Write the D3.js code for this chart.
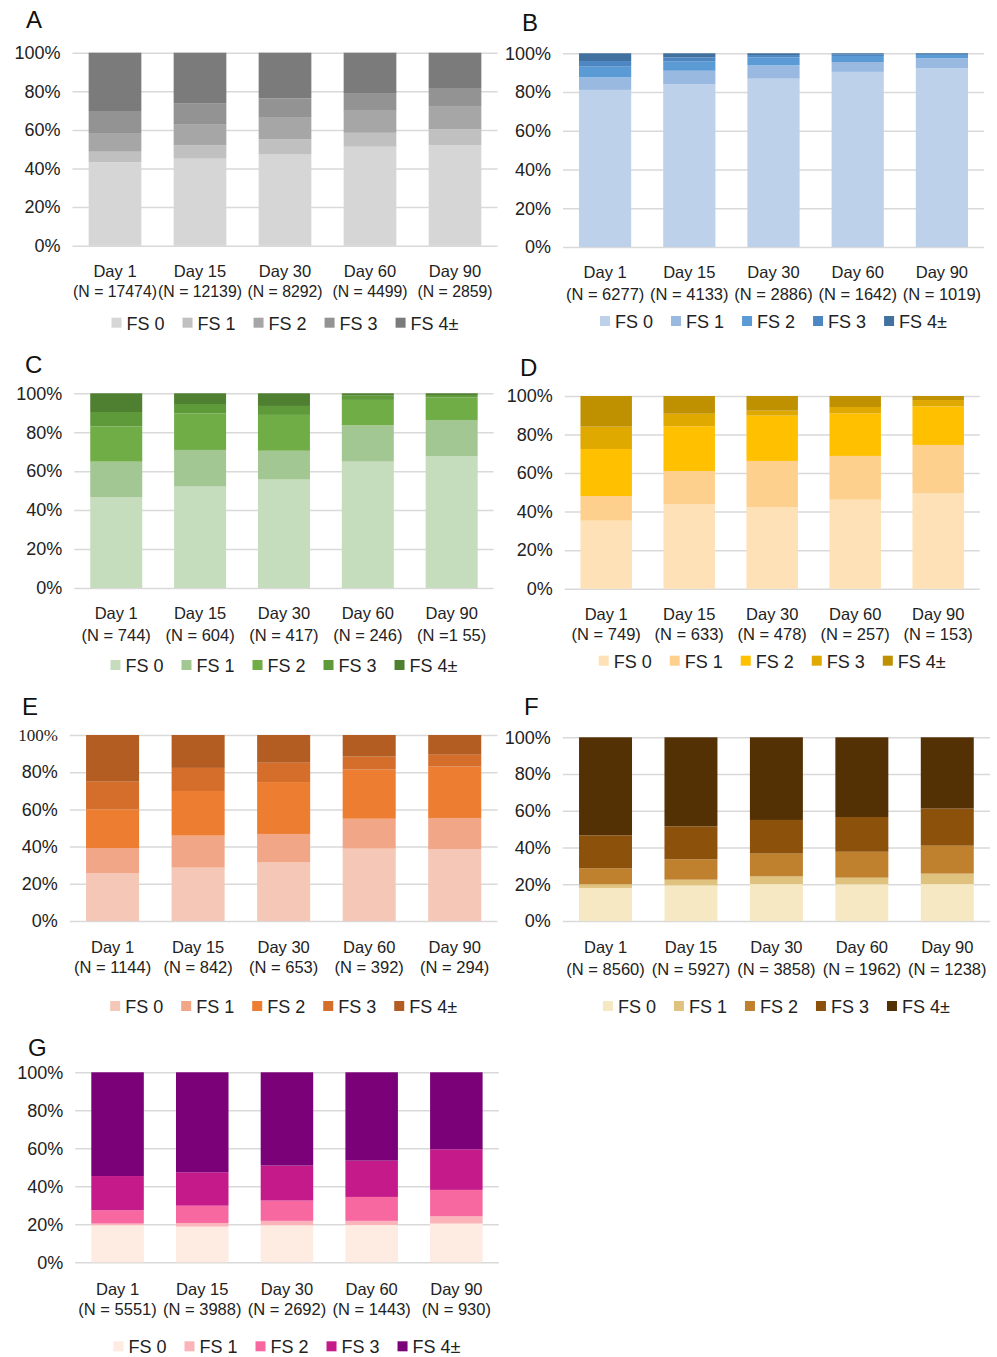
<!DOCTYPE html>
<html>
<head>
<meta charset="utf-8">
<script src="https://cdn.jsdelivr.net/npm/d3@7"></script>
<style>
  body { margin: 0; background: #fff; }
  svg { display: block; font-family: "Liberation Sans", Arial, sans-serif; }
</style>
</head>
<body>
<svg id="chart" width="997" height="1357"></svg>
<script>
// categories and legend
const days = ["Day 1", "Day 15", "Day 30", "Day 60", "Day 90"];
const fsLevels = ["FS 0", "FS 1", "FS 2", "FS 3", "FS 4±"];
const yTicks = [0, 0.2, 0.4, 0.6, 0.8, 1];

// N labels per panel
const nA = ["(N = 17474)", "(N = 12139)", "(N = 8292)", "(N = 4499)", "(N = 2859)"];
const nB = ["(N = 6277)", "(N = 4133)", "(N = 2886)", "(N = 1642)", "(N = 1019)"];
const nC = ["(N = 744)", "(N = 604)", "(N = 417)", "(N = 246)", "(N =1 55)"];
const nD = ["(N = 749)", "(N = 633)", "(N = 478)", "(N = 257)", "(N = 153)"];
const nE = ["(N = 1144)", "(N = 842)", "(N = 653)", "(N = 392)", "(N = 294)"];
const nF = ["(N = 8560)", "(N = 5927)", "(N = 3858)", "(N = 1962)", "(N = 1238)"];
const nG = ["(N = 5551)", "(N = 3988)", "(N = 2692)", "(N = 1443)", "(N = 930)"];

// percentages, one row per FS level, one value per day
const valsA = [
  [43.2, 45.1, 47.5, 51.3, 52.0],
  [5.5, 6.9, 7.6, 7.2, 8.3],
  [9.3, 10.7, 11.2, 11.4, 11.7],
  [11.8, 10.9, 10.0, 9.2, 9.7],
  [30.2, 26.4, 23.7, 20.9, 18.3]
];
const valsB = [
  [81.1, 84.0, 86.9, 90.4, 92.3],
  [6.5, 7.0, 6.9, 5.1, 5.1],
  [5.5, 4.7, 4.0, 3.1, 1.7],
  [2.9, 2.2, 1.3, 0.9, 0.5],
  [4.0, 2.1, 0.9, 0.5, 0.4]
];
const valsC = [
  [46.7, 52.1, 55.7, 64.9, 67.8],
  [18.2, 18.8, 14.8, 18.7, 18.5],
  [18.1, 18.8, 18.4, 13.0, 11.6],
  [7.4, 4.8, 4.6, 2.2, 1.2],
  [9.6, 5.5, 6.5, 1.2, 0.9]
];
const valsD = [
  [35.3, 43.9, 42.4, 46.2, 49.5],
  [12.8, 17.2, 23.9, 22.7, 25.1],
  [24.4, 23.2, 23.5, 22.1, 20.0],
  [11.6, 6.5, 2.6, 3.3, 3.3],
  [15.9, 9.2, 7.6, 5.7, 2.1]
];
const valsE = [
  [25.8, 28.7, 31.5, 38.9, 38.7],
  [13.4, 17.2, 15.3, 16.1, 16.7],
  [20.8, 24.0, 27.9, 26.4, 27.6],
  [14.9, 12.4, 10.4, 7.0, 6.4],
  [25.1, 17.7, 14.9, 11.6, 10.6]
];
const valsF = [
  [18.0, 19.4, 20.1, 20.0, 20.1],
  [2.0, 3.1, 4.2, 3.6, 5.7],
  [8.7, 11.1, 12.4, 14.1, 15.2],
  [17.9, 17.9, 18.3, 18.9, 20.2],
  [53.4, 48.5, 45.0, 43.4, 38.8]
];
const valsG = [
  [19.5, 18.8, 19.5, 19.6, 20.4],
  [0.9, 1.9, 2.3, 2.2, 3.8],
  [7.0, 9.1, 10.7, 12.6, 13.9],
  [18.0, 17.6, 18.4, 19.1, 21.4],
  [54.6, 52.6, 49.1, 46.5, 40.5]
];

// colours
const colA = ["#d6d6d6", "#c0c0c0", "#a6a6a6", "#939393", "#7b7b7b"];
const colB = ["#bdd1eb", "#9ab9e1", "#5b9bd5", "#4c87c3", "#41719f"];
const colC = ["#c5dcbd", "#a3c793", "#70ad47", "#5e993a", "#4f7f31"];
const colD = ["#fee1b6", "#fed08d", "#ffc000", "#e0a900", "#bf9000"];
const colE = ["#f5c7b7", "#f1a687", "#ed7d31", "#d46e2a", "#b45d22"];
const colF = ["#f6e8c3", "#dfc27d", "#bf812d", "#8c510a", "#543005"];
const colG = ["#feebe2", "#fbb4b9", "#f768a1", "#c51b8a", "#7a0177"];

const panels = [
  { id: "A", vals: valsA, ns: nA, col: colA, x0: 72.5, x1: 497.5, yT: 52.7, yB: 245.7, lx: 26, ly: 28, c1: 31, c2: 51, lg: 84, nSize: 15.8 },
  { id: "B", vals: valsB, ns: nB, col: colB, x0: 563, x1: 984, yT: 53.3, yB: 247, lx: 522, ly: 31, c1: 31, c2: 53, lg: 81 },
  { id: "C", vals: valsC, ns: nC, col: colC, x0: 74.3, x1: 493.6, yT: 393.3, yB: 588, lx: 25, ly: 373, c1: 31, c2: 53, lg: 84 },
  { id: "D", vals: valsD, ns: nD, col: colD, x0: 564.7, x1: 979.7, yT: 396, yB: 588.7, lx: 520, ly: 376, c1: 31, c2: 51, lg: 79 },
  { id: "E", vals: valsE, ns: nE, col: colE, x0: 69.8, x1: 497.5, yT: 735, yB: 921, lx: 22, ly: 715, c1: 32, c2: 52, lg: 92, serifTop: true },
  { id: "F", vals: valsF, ns: nF, col: colF, x0: 562.8, x1: 990, yT: 737.3, yB: 921, lx: 524, ly: 715, c1: 32, c2: 54, lg: 92 },
  { id: "G", vals: valsG, ns: nG, col: colG, x0: 75.2, x1: 498.7, yT: 1072.3, yB: 1262.3, lx: 28, ly: 1056, c1: 33, c2: 53, lg: 91 }
];

const svg = d3.select("#chart");

function drawPanel(p) {
  const g = svg.append("g");
  const rows = days.map((d, i) => {
    const r = { day: d };
    fsLevels.forEach((k, j) => r[k] = p.vals[j][i]);
    return r;
  });
  const series = d3.stack().keys(fsLevels).offset(d3.stackOffsetExpand)(rows);

  const x = d3.scaleBand().domain(days).range([p.x0, p.x1]).paddingInner(0.38).paddingOuter(0.19);
  const y = d3.scaleLinear().domain([0, 1]).range([p.yB, p.yT]);
  const color = d3.scaleOrdinal().domain(fsLevels).range(p.col);

  // y axis with gridlines
  const yAxis = d3.axisLeft(y).tickValues(yTicks).tickFormat(d3.format(".0%"))
    .tickSize(-(p.x1 - p.x0)).tickPadding(12);
  const ya = g.append("g").attr("transform", "translate(" + p.x0 + ",0)").call(yAxis);
  ya.select(".domain").remove();
  ya.selectAll(".tick line").attr("stroke", "#d9d9d9").attr("stroke-width", 1.5);
  ya.selectAll(".tick text").attr("fill", "#222").attr("font-size", 18)
    .attr("font-family", "'Liberation Sans', Arial, sans-serif");
  if (p.serifTop) {
    ya.selectAll(".tick text").filter(d => d === 1)
      .attr("font-family", "'Liberation Serif', 'Times New Roman', serif").attr("font-size", 17);
  }

  // bars
  g.append("g").selectAll("g").data(series).join("g")
    .attr("fill", d => color(d.key))
    .selectAll("rect").data(d => d).join("rect")
    .attr("x", d => x(d.data.day))
    .attr("width", x.bandwidth())
    .attr("y", d => y(d[1]))
    .attr("height", d => y(d[0]) - y(d[1]));

  // x axis with two-line labels
  const xa = g.append("g").attr("transform", "translate(0," + p.yB + ")")
    .call(d3.axisBottom(x).tickSize(0).tickFormat(""));
  xa.select(".domain").remove();
  xa.selectAll(".tick text").remove();
  xa.selectAll(".tick").each(function (d, i) {
    const t = d3.select(this);
    t.append("text").attr("y", p.c1).attr("text-anchor", "middle")
      .attr("fill", "#222").attr("font-size", 16.5).text(d);
    t.append("text").attr("y", p.c2).attr("text-anchor", "middle")
      .attr("fill", "#222").attr("font-size", p.nSize || 16.5).text(p.ns[i]);
  });

  // legend
  const leg = g.append("g");
  let cx = 0;
  fsLevels.forEach((k) => {
    const it = leg.append("g").attr("transform", "translate(" + cx + ",0)");
    it.append("rect").attr("x", 0).attr("y", -12).attr("width", 10).attr("height", 10).attr("fill", color(k));
    const tx = it.append("text").attr("x", 15).attr("font-size", 18).attr("fill", "#222").text(k);
    cx += 15 + tx.node().getComputedTextLength() + 18;
  });
  const legW = cx - 18;
  leg.attr("transform", "translate(" + ((p.x0 + p.x1) / 2 - legW / 2) + "," + (p.yB + p.lg) + ")");

  // panel letter
  g.append("text").attr("x", p.lx).attr("y", p.ly).attr("font-size", 24)
    .attr("fill", "#111").text(p.id);
}

panels.forEach(drawPanel);
</script>
</body>
</html>
